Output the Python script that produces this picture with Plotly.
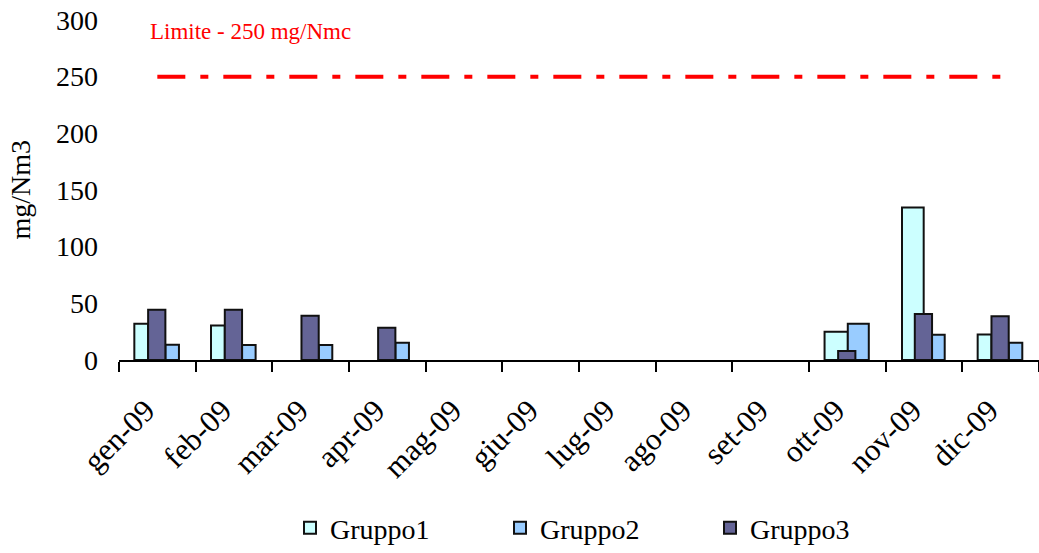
import plotly.graph_objects as go

# Monthly emission concentrations (mg/Nm3) per unit
months = ["gen-09", "feb-09", "mar-09", "apr-09", "mag-09", "giu-09",
          "lug-09", "ago-09", "set-09", "ott-09", "nov-09", "dic-09"]
gruppo1 = [32, 30.5, None, None, None, None, None, None, None, 25, 134.5, 22.5]
gruppo2 = [13.5, 13.2, 13.2, 15.2, None, None, None, None, None, 32, 22.3, 15.2]
gruppo3 = [44.3, 44.3, 39, 28.4, None, None, None, None, None, 8, 40.5, 38.7]
limit_value = 250
limit_label = "Limite - 250 mg/Nmc"
y_ticks = [0, 50, 100, 150, 200, 250, 300]

FONT = "Liberation Serif, Times New Roman, serif"

# per-bar geometry (fraction of category width): the two outer bars
# widen in the months where the middle bar is short
n = len(months)
w1 = [0.18] * n
o1 = [-0.30] * n
w2 = [0.177] * n
o2 = [0.105] * n
w1[9], o1[9] = 0.304, -0.297
w2[9], o2[9] = 0.274, 0.006
w1[10], o1[10] = 0.283, -0.287
w2[10], o2[10] = 0.175, 0.095

outline = dict(color="#111111", width=2)

fig = go.Figure()
fig.add_trace(go.Bar(name="Gruppo1", x=months, y=gruppo1, width=w1, offset=o1,
                     marker=dict(color="#CCFFFF", line=outline)))
fig.add_trace(go.Bar(name="Gruppo2", x=months, y=gruppo2, width=w2, offset=o2,
                     marker=dict(color="#99CCFF", line=outline)))
fig.add_trace(go.Bar(name="Gruppo3", x=months, y=gruppo3, width=0.225, offset=-0.12,
                     marker=dict(color="#646496", line=outline)))

# emission limit line from the first to the last month (month index axis)
fig.add_trace(go.Scatter(x=[0, n - 1], y=[limit_value, limit_value],
                         xaxis="x2", yaxis="y",
                         mode="lines", showlegend=False, hoverinfo="skip",
                         line=dict(color="#FF0000", width=4,
                                   dash="28px,15px,8px,15px")))

fig.add_annotation(text=limit_label, xref="paper", yref="paper",
                   x=(148 - 119) / 920, y=(361 - 32) / 341,
                   xanchor="left", yanchor="middle", showarrow=False,
                   font=dict(family=FONT, size=23, color="#FF0000"))

fig.add_annotation(text="mg/Nm3", xref="paper", yref="paper",
                   x=(21 - 119) / 920, y=(361 - 190) / 341,
                   xanchor="center", yanchor="middle", textangle=-90,
                   showarrow=False, font=dict(family=FONT, size=28, color="black"))

# month labels sit slightly left of each category centre
label_shift = -0.15

fig.update_layout(
    width=1039, height=553,
    margin=dict(l=119, r=0, t=20, b=192),
    paper_bgcolor="white", plot_bgcolor="white",
    barmode="overlay",
    font=dict(family=FONT, size=28, color="black"),
    showlegend=True,
    legend=dict(orientation="h", x=(290 - 119) / 920, y=(361 - 530) / 341,
                xanchor="left", yanchor="middle",
                entrywidth=165, font=dict(family=FONT, size=28),
                bgcolor="rgba(0,0,0,0)"),
    xaxis=dict(type="category", categoryorder="array", categoryarray=months,
               range=[-0.5, n - 0.5], showticklabels=False,
               showline=True, linecolor="black", linewidth=1.5,
               ticks="outside", ticklen=10, tickcolor="black", tickwidth=1.5,
               tickson="boundaries", showgrid=False, zeroline=False),
    xaxis2=dict(overlaying="x", anchor="y", side="bottom", type="linear",
                range=[-0.5, n - 0.5],
                tickvals=[i + label_shift for i in range(n)], ticktext=months,
                tickangle=-45, ticks="", showline=False, showgrid=False,
                zeroline=False, ticklabelstandoff=25,
                tickfont=dict(family=FONT, size=31)),
    yaxis=dict(range=[0, 300], tickvals=y_ticks, showgrid=False,
               zeroline=False, showline=False, ticks="",
               ticklabelstandoff=20, tickfont=dict(family=FONT, size=28)),
)

fig.write_html("out.html")
